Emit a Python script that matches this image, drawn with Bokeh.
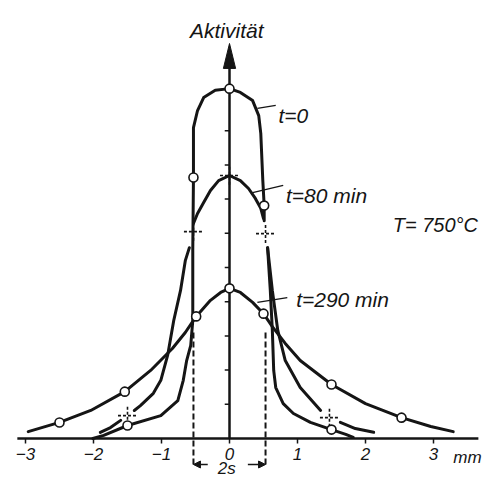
from bokeh.plotting import figure
from bokeh.models import Range1d, Arrow, NormalHead
from bokeh.core.properties import value
from bokeh.embed import file_html
from bokeh.resources import INLINE

nan = float("nan")

# ---------------- data (x in mm, y = activity, arbitrary units) ----------------
x_ticks = [-3, -2, -1, 0, 1, 2, 3]
x_tick_labels = ["\u22123", "\u22122", "\u22121", "0", "1", "2", "3"]
y_ticks = [1, 2, 3, 4, 5, 6, 7, 8, 9]

# t = 0 profile
t0_x = [-2.01, -1.85, -1.50, -1.01, -0.76, -0.68, -0.63, -0.57, -0.54, -0.54, -0.53, -0.53,
        -0.47, -0.38, -0.21, 0.00, 0.16, 0.34, 0.43, 0.46, 0.49, 0.51, 0.51, nan,
        0.56, 0.60, 0.63, 0.65, 0.68, 0.79, 0.94, 1.19, 1.50, 1.71, 1.82]
t0_y = [0.00, 0.09, 0.38, 0.67, 1.11, 1.70, 2.28, 2.72, 3.45, 5.50, 7.63, 9.09,
        9.59, 9.97, 10.18, 10.23, 10.12, 9.88, 9.44, 8.92, 7.54, 6.81, 6.37, nan,
        5.58, 4.33, 3.16, 1.99, 1.49, 1.02, 0.73, 0.47, 0.26, 0.12, 0.03]
t0_pts_x = [-1.50, -0.53, 0.00, 0.51, 1.50]
t0_pts_y = [0.38, 7.63, 10.23, 6.81, 0.26]

# t = 80 min profile
t80_x = [-0.53, -0.47, -0.38, -0.28, -0.16, 0.00, 0.16, 0.28, 0.38, 0.46, 0.50, nan,
         -0.59, -0.65, -0.72, -0.82, -0.91, -1.01, -1.12, -1.31, -1.40, nan,
         -1.60, -1.75, -1.90, nan,
         0.56, 0.63, 0.71, 0.82, 1.04, 1.34, nan,
         1.63, 1.85, 2.12]
t80_y = [6.29, 6.58, 6.90, 7.25, 7.54, 7.69, 7.54, 7.31, 7.02, 6.73, 6.43, nan,
         5.58, 5.20, 4.33, 3.45, 2.43, 1.70, 1.32, 0.96, 0.82, nan,
         0.53, 0.32, 0.18, nan,
         5.58, 4.33, 3.16, 2.28, 1.49, 0.82, nan,
         0.47, 0.29, 0.18]
t80_pts_x = [-1.50, -0.53, 0.00, 0.53, 1.47]
t80_pts_y = [0.67, 6.05, 7.69, 5.99, 0.61]

# t = 290 min profile
t290_x = [-2.96, -2.50, -2.04, -1.54, -1.16, -0.84, -0.65, -0.49, -0.28, -0.13, 0.00,
          0.16, 0.34, 0.50, 0.63, 0.82, 1.04, 1.50, 2.00, 2.53, 2.96, 3.29]
t290_y = [0.20, 0.47, 0.82, 1.37, 1.99, 2.63, 3.10, 3.57, 4.04, 4.27, 4.39,
          4.27, 3.98, 3.65, 3.27, 2.78, 2.28, 1.58, 1.02, 0.61, 0.35, 0.20]
t290_pts_x = [-2.50, -1.54, -0.49, 0.00, 0.50, 1.50, 2.53]
t290_pts_y = [0.47, 1.37, 3.57, 4.39, 3.65, 1.58, 0.61]

half_width_s = 0.53          # layer half thickness s (mm)
series_labels = ["t=0", "t=80 min", "t=290 min"]
temp_label = "T= 750\u00b0C"
y_label = "Aktivit\u00e4t"
x_unit = "mm"
gap_label = "2s"

# ---------------- style ----------------
INK = "#151515"
FONT = value("Liberation Sans")
W, H = 485, 478
PX_X, PX_Y = 68.0, 34.2       # pixels per mm / per activity unit
X0_PX, Y0_PX = 229.0, 438.0   # pixel position of the origin

p = figure(width=W, height=H,
           x_range=Range1d(-X0_PX / PX_X, (W - X0_PX) / PX_X),
           y_range=Range1d((Y0_PX - H) / PX_Y, Y0_PX / PX_Y),
           output_backend="svg", toolbar_location=None, min_border=0,
           x_axis_location=None, y_axis_location=None, outline_line_color=None,
           background_fill_color="white", border_fill_color="white")
p.grid.grid_line_color = None

# horizontal (x) axis: line, ticks, labels
tick_len = 5 / PX_Y
p.segment(x0=[-3.12], y0=[0], x1=[3.66], y1=[0], line_width=2.5, line_color=INK)
p.segment(x0=x_ticks, y0=[0] * len(x_ticks), x1=x_ticks, y1=[-tick_len] * len(x_ticks),
          line_width=1.5, line_color=INK)
txt = dict(text_font=FONT, text_font_style="italic", text_color=INK)
p.text(x=x_ticks, y=[-9 / PX_Y] * len(x_ticks), text=x_tick_labels, text_font_size="17px",
       text_align="center", text_baseline="top", **txt)
p.text(x=[3.29], y=[-19 / PX_Y], text=[x_unit], text_font_size="17px",
       text_align="left", text_baseline="alphabetic", **txt)

# vertical axis with arrow
arrow_tip = 11.55
arrow_len = 0.73
arrow_hw = 0.09
p.segment(x0=[0], y0=[0], x1=[0], y1=[arrow_tip - arrow_len + 0.05], line_width=2.5, line_color=INK)
p.patch(x=[-arrow_hw, 0, arrow_hw], y=[arrow_tip - arrow_len, arrow_tip, arrow_tip - arrow_len],
        fill_color=INK, line_color=INK)
p.segment(x0=[-0.07] * len(y_ticks), y0=y_ticks, x1=[0] * len(y_ticks), y1=y_ticks,
          line_width=1.5, line_color=INK)

# dashed layer boundaries (extend below the axis)
p.segment(x0=[-half_width_s, half_width_s], y0=[3.1, 3.1], x1=[-half_width_s, half_width_s],
          y1=[-29 / PX_Y] * 2, line_width=2, line_dash="6 3", line_color=INK)

# curves
for xs, ys in [(t0_x, t0_y), (t80_x, t80_y), (t290_x, t290_y)]:
    p.line(xs, ys, line_width=3, line_color=INK, line_join="round", line_cap="round")

# t=80 crosses (dashed)
dx, dy = 0.14, 0.27
p.segment(x0=[x - dx for x in t80_pts_x], y0=t80_pts_y, x1=[x + dx for x in t80_pts_x], y1=t80_pts_y,
          line_width=1.6, line_dash="3 2", line_color=INK)
p.segment(x0=t80_pts_x, y0=[y - dy for y in t80_pts_y], x1=t80_pts_x, y1=[y + dy for y in t80_pts_y],
          line_width=1.6, line_dash="3 2", line_color=INK)

# open circles
for xs, ys in [(t0_pts_x, t0_pts_y), (t290_pts_x, t290_pts_y)]:
    p.scatter(xs, ys, marker="circle", size=9, fill_color="white", line_color=INK, line_width=1.6)

# leader lines for labels
p.segment(x0=[0.41, 0.34, 0.41], y0=[9.65, 7.19, 3.98], x1=[0.68, 0.79, 0.85], y1=[9.74, 7.40, 4.12],
          line_width=1.3, line_color=INK)

p.text(x=[0.72, 0.83, 0.98], y=[9.44, 7.10, 4.06], text=series_labels,
       text_font_size="21px", text_align="left", text_baseline="alphabetic", **txt)
p.text(x=[2.40], y=[6.23], text=[temp_label], text_font_size="20px",
       text_align="left", text_baseline="alphabetic", **txt)
p.text(x=[-0.04], y=[11.93], text=[y_label], text_font_size="21px",
       text_align="center", text_baseline="alphabetic", **txt)

# 2s dimension arrows and label
arrow_y = -26 / PX_Y
for xs, xe in [(-0.32, -half_width_s), (0.27, half_width_s)]:
    p.add_layout(Arrow(x_start=xs, y_start=arrow_y, x_end=xe, y_end=arrow_y, line_width=1.6,
                       line_color=INK, end=NormalHead(size=7, fill_color=INK, line_color=INK)))
p.text(x=[-0.04], y=[-30 / PX_Y], text=[gap_label], text_font_size="17px",
       text_align="center", text_baseline="middle", **txt)

open("out.html", "w").write(file_html(p, INLINE))
